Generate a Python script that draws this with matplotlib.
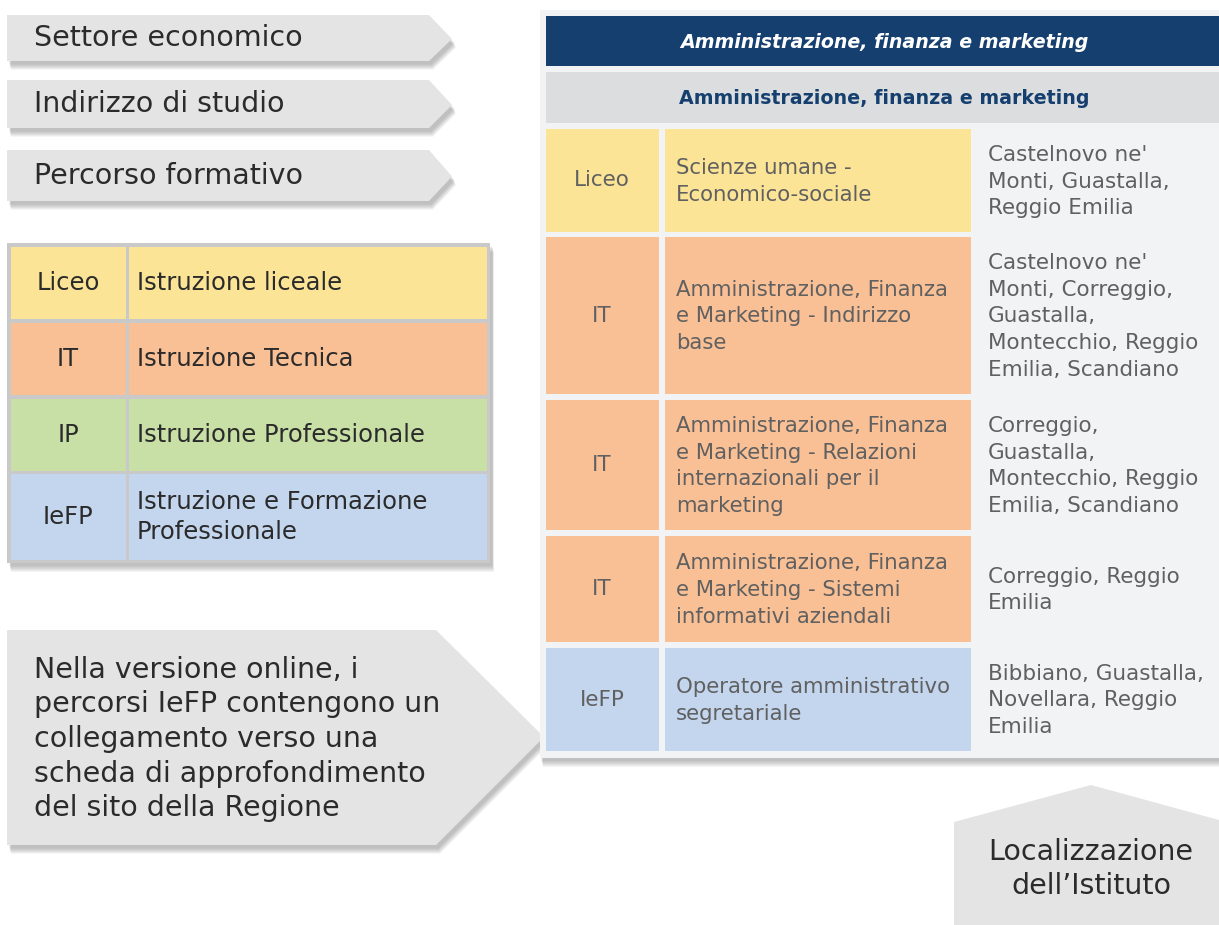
import matplotlib
matplotlib.use("Agg")
import matplotlib.pyplot as plt
from matplotlib.patches import Polygon, Rectangle

# ---------------- data ----------------
arrow_labels = ["Settore economico", "Indirizzo di studio", "Percorso formativo"]

legend_codes = ["Liceo", "IT", "IP", "IeFP"]
legend_names = ["Istruzione liceale", "Istruzione Tecnica",
                "Istruzione Professionale", "Istruzione e Formazione\nProfessionale"]

type_colors = {"Liceo": "#FCE497", "IT": "#F9C096", "IP": "#C8DFA6", "IeFP": "#C3D6EE"}

sector_title = "Amministrazione, finanza e marketing"
indirizzo_title = "Amministrazione, finanza e marketing"

row_types = ["Liceo", "IT", "IT", "IT", "IeFP"]
row_courses = [
    "Scienze umane -\nEconomico-sociale",
    "Amministrazione, Finanza\ne Marketing - Indirizzo\nbase",
    "Amministrazione, Finanza\ne Marketing - Relazioni\ninternazionali per il\nmarketing",
    "Amministrazione, Finanza\ne Marketing - Sistemi\ninformativi aziendali",
    "Operatore amministrativo\nsegretariale",
]
row_places = [
    "Castelnovo ne'\nMonti, Guastalla,\nReggio Emilia",
    "Castelnovo ne'\nMonti, Correggio,\nGuastalla,\nMontecchio, Reggio\nEmilia, Scandiano",
    "Correggio,\nGuastalla,\nMontecchio, Reggio\nEmilia, Scandiano",
    "Correggio, Reggio\nEmilia",
    "Bibbiano, Guastalla,\nNovellara, Reggio\nEmilia",
]

note_text = ("Nella versione online, i\npercorsi IeFP contengono un\ncollegamento verso una\n"
             "scheda di approfondimento\ndel sito della Regione")
location_label = "Localizzazione\ndell\u2019Istituto"

# ---------------- layout ----------------
W, H = 1219, 925
fig = plt.figure(figsize=(W / 100, H / 100), dpi=100)
ax = fig.add_axes([0, 0, 1, 1])
ax.set_xlim(0, W)
ax.set_ylim(H, 0)
ax.axis("off")

FONT = "DejaVu Sans"
TXT = "#2b2b2b"
GRAY_TXT = "#606060"
BOX = "#e4e4e4"


def shadow(pts, dx=4, dy=6, layers=7):
    for i in range(layers):
        s = 1.0 + i * 0.9
        shifted = [(x + dx * 0.5 + s * 0.3, y + dy * 0.4 + s) for x, y in pts]
        ax.add_patch(Polygon(shifted, closed=True, facecolor="#505050",
                             edgecolor="none", alpha=0.06, zorder=1))


def shape(pts, color=BOX, z=2):
    shadow(pts)
    ax.add_patch(Polygon(pts, closed=True, facecolor=color, edgecolor="none", zorder=z))


# arrow labels top-left
arrow_y = [(15, 61), (80, 128), (150, 201)]
for lab, (y0, y1) in zip(arrow_labels, arrow_y):
    pts = [(7, y0), (429, y0), (452, (y0 + y1) / 2 + 1), (429, y1), (7, y1)]
    shape(pts, BOX)
    ax.text(34, (y0 + y1) / 2, lab, fontsize=20.5, family=FONT, color=TXT,
            va="center", ha="left", zorder=5)

# legend table
lx0, lx1, ly0, ly1 = 7, 490, 243, 563
shadow([(lx0, ly0), (lx1, ly0), (lx1, ly1), (lx0, ly1)])
ax.add_patch(Rectangle((lx0, ly0), lx1 - lx0, ly1 - ly0, facecolor="#c9c9c9",
                       edgecolor="none", zorder=2))
leg_rows = [(247, 319), (323, 395), (399, 471), (474, 560)]
for code, name, (y0, y1) in zip(legend_codes, legend_names, leg_rows):
    c = type_colors[code]
    ax.add_patch(Rectangle((11, y0), 126 - 11, y1 - y0, facecolor=c, edgecolor="none", zorder=3))
    ax.add_patch(Rectangle((129, y0), 487 - 129, y1 - y0, facecolor=c, edgecolor="none", zorder=3))
    ax.text(68, (y0 + y1) / 2, code, fontsize=17.5, family=FONT, color=TXT,
            ha="center", va="center", zorder=5)
    ax.text(137, (y0 + y1) / 2, name, fontsize=17.5, family=FONT, color=TXT,
            ha="left", va="center", linespacing=1.3, zorder=5)

# note callout
npts = [(7, 630), (436, 630), (544, 737), (436, 845), (7, 845)]
shape(npts, BOX)
ax.text(34, 739, note_text, fontsize=20.5, family=FONT, color=TXT,
        ha="left", va="center", linespacing=1.3, zorder=5)

# right panel
shadow([(540, 10), (1219, 10), (1219, 758), (540, 758)], dx=2, dy=6)
ax.add_patch(Rectangle((540, 10), W - 540, 748, facecolor="#f2f3f5", edgecolor="none", zorder=2))
ax.add_patch(Rectangle((546, 16), W - 546, 50, facecolor="#153F6F", edgecolor="none", zorder=3))
ax.text(884, 42, sector_title, fontsize=13.7, family=FONT, color="white", style="italic",
        weight="bold", ha="center", va="center", zorder=5)
ax.add_patch(Rectangle((546, 72), W - 546, 51, facecolor="#dcdddf", edgecolor="none", zorder=3))
ax.text(884, 98, indirizzo_title, fontsize=13.7, family=FONT, color="#153F6F",
        weight="bold", ha="center", va="center", zorder=5)

row_bounds = [(129, 232), (237, 394), (400, 530), (536, 642), (648, 751)]
for t, course, place, (y0, y1) in zip(row_types, row_courses, row_places, row_bounds):
    c = type_colors[t]
    ax.add_patch(Rectangle((546, y0), 659 - 546, y1 - y0, facecolor=c, edgecolor="none", zorder=3))
    ax.add_patch(Rectangle((665, y0), 971 - 665, y1 - y0, facecolor=c, edgecolor="none", zorder=3))
    ym = (y0 + y1) / 2
    ax.text(602, ym, t, fontsize=15.5, family=FONT, color=GRAY_TXT,
            ha="center", va="center", zorder=5)
    ax.text(676, ym + 1, course, fontsize=15.3, family=FONT, color=GRAY_TXT,
            ha="left", va="center", linespacing=1.43, zorder=5)
    ax.text(988, ym + 1, place, fontsize=15.5, family=FONT, color=GRAY_TXT,
            ha="left", va="center", linespacing=1.42, zorder=5)

# bottom location label (pentagon pointing up)
bpts = [(954, 822), (1091, 785), (1219, 820), (1219, 925), (954, 925)]
ax.add_patch(Polygon(bpts, closed=True, facecolor=BOX, edgecolor="none", zorder=2))
ax.text(1091, 869, location_label, fontsize=20.5, family=FONT, color=TXT,
        ha="center", va="center", linespacing=1.27, zorder=5)

fig.savefig("out.png", dpi=100, facecolor="white")
